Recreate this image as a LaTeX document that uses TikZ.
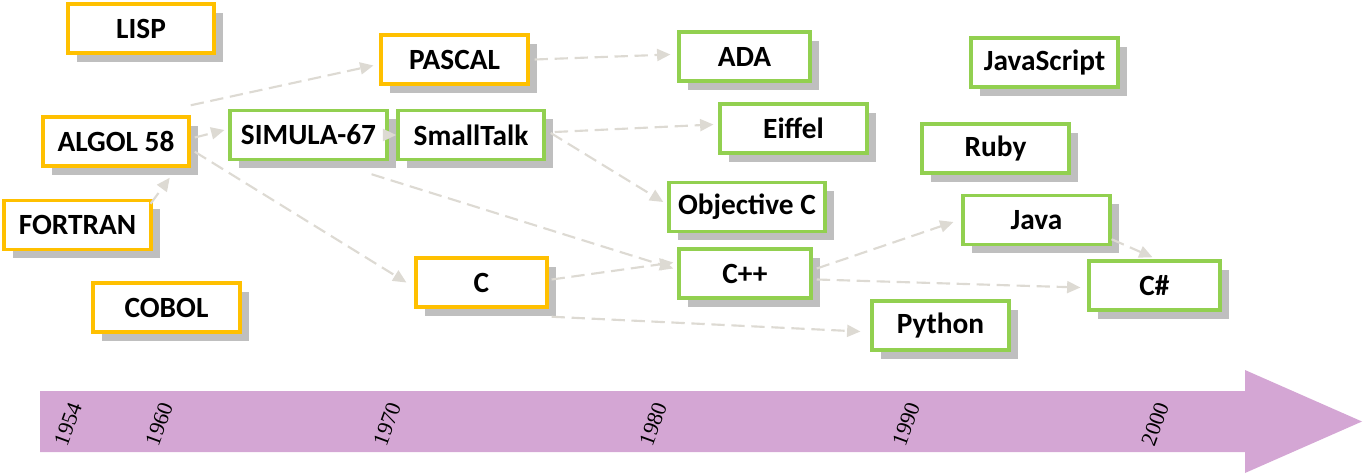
\documentclass[tikz,border=0pt]{standalone}
\usepackage{fontspec}
\setmainfont{Liberation Serif}
\newfontfamily\lab{Carlito}
\usetikzlibrary{shadows,arrows.meta}
\definecolor{org}{HTML}{FFC000}
\definecolor{grn}{HTML}{92D050}
\definecolor{arr}{HTML}{DDDAD3}
\definecolor{bar}{HTML}{D4A6D4}
\begin{document}
\begin{tikzpicture}[x=0.75pt,y=-0.75pt,
 box/.style={draw=#1,line width=2.6pt,fill=white,minimum height=36.75pt,inner sep=0pt,
   font=\lab\bfseries\fontsize{22}{22}\selectfont,
   drop shadow={shadow xshift=6.5pt,shadow yshift=-6.5pt,fill=black!25,opacity=1}},
 ln/.style={draw=arr,line width=1.6pt,dash pattern=on 10pt off 5pt,-{Triangle[length=10pt,width=9pt]}},
 yr/.style={rotate=70,font=\fontsize{16.5}{16.5}\selectfont,inner sep=0pt}]
\useasboundingbox (0,0) rectangle (1364,475);
\fill[bar] (40,391) -- (1245,391) -- (1245,370) -- (1362,421.5) -- (1245,473) -- (1245,452) -- (40,452) -- cycle;
\foreach \x/\t in {68/1954,159/1960,387/1970,653/1980,906/1990,1155/2000}
  \node[yr] (y\t) at (\x,424) {\t};
\node[box=org,minimum width=109.5pt] (lisp) at (141,28.5) {LISP};
\node[box=org,minimum width=109.5pt] (algol) at (116,141.5) {ALGOL 58};
\node[box=org,minimum width=110pt] (fortran) at (77.5,225) {FORTRAN};
\node[box=org,minimum width=110pt] (cobol) at (166.5,307.5) {COBOL};
\node[box=org,minimum width=110pt] (pascal) at (454.5,59.5) {PASCAL};
\node[box=grn,minimum width=117.5pt] (simula) at (308.5,135) {SIMULA-67};
\node[box=grn,minimum width=109.5pt] (small) at (471,135) {SmallTalk};
\node[box=org,minimum width=98pt] (c) at (481.5,282.5) {C};
\node[box=grn,minimum width=98pt] (ada) at (744.5,56.5) {ADA};
\node[box=grn,minimum width=110pt] (eiffel) at (793.5,128.5) {Eiffel};
\node[box=grn,minimum width=117pt] (objc) at (747,207) {Objective C};
\node[box=grn,minimum width=99pt] (cpp) at (745,273.5) {C++};
\node[box=grn,minimum width=110pt] (js) at (1044.5,62.5) {JavaScript};
\node[box=grn,minimum width=110pt] (ruby) at (995.5,148.5) {Ruby};
\node[box=grn,minimum width=110pt] (java) at (1036.5,220) {Java};
\node[box=grn,minimum width=98pt] (cs) at (1154.5,285.5) {C\#};
\node[box=grn,minimum width=102.5pt] (python) at (940.5,325.5) {Python};
\draw[ln] ([shift={(0,-10)}]algol.north east) -- ([shift={(-6,6)}]pascal.west);
\draw[ln] ([shift={(4,-4)}]algol.east) -- ([shift={(-4,-5)}]simula.west);
\draw[ln] (simula.east) -- (small.west);
\draw[ln] ([shift={(-2,5)}]fortran.north east) -- ([shift={(-21,10)}]algol.south east);
\draw[ln] ([shift={(4,-16)}]algol.south east) -- ([shift={(-8,0)}]c.west);
\draw[ln] ([shift={(-17,13)}]simula.south east) -- ([shift={(-4,-5)}]cpp.west);
\draw[ln] ([shift={(5,0)}]pascal.east) -- ([shift={(-7,-2)}]ada.west);
\draw[ln] ([shift={(9,-3)}]small.east) -- ([shift={(-5,-4)}]eiffel.west);
\draw[ln] ([shift={(5,-2)}]small.east) -- ([shift={(-4,-5)}]objc.west);
\draw[ln] ([shift={(3,-3)}]c.east) -- ([shift={(-4,-11)}]cpp.west);
\draw[ln] ([shift={(3,8)}]c.south east) -- ([shift={(-10,6)}]python.west);
\draw[ln] ([shift={(4,-5)}]cpp.east) -- ([shift={(-8,2)}]java.west);
\draw[ln] ([shift={(4,6)}]cpp.east) -- ([shift={(-7,2)}]cs.west);
\draw[ln] ([shift={(0,-7)}]java.south east) -- ([shift={(-2,-2)}]cs.north);
\end{tikzpicture}
\end{document}
